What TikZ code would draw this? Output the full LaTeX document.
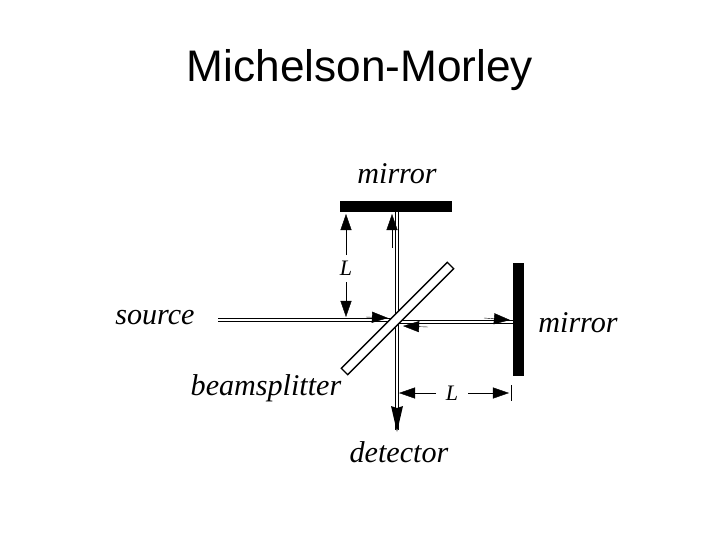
\documentclass[tikz,border=0pt]{standalone}
\usepackage{fontspec}
\setmainfont{Liberation Serif}
\newfontfamily\titlefont{Liberation Sans}
\usetikzlibrary{arrows.meta,calc}
\tikzset{
  beam/.style={double, double distance=2.4pt, line width=1pt},
  lab/.style={font=\fontsize{30}{32}\selectfont\itshape},
  tip/.style={-{Triangle[length=16pt,width=11pt]}},
}
\begin{document}
\begin{tikzpicture}[x=0.35mm,y=-0.35mm]
\useasboundingbox (0,0) rectangle (720,540);
% Title
\node (title) [font=\titlefont\fontsize{44}{46}\selectfont] at (360,70) {Michelson-Morley};

% Mirrors
\node (topmirror) [fill=black, minimum width=112*0.35mm, minimum height=11*0.35mm, inner sep=0pt] at (396,206.5) {};
\node (rightmirror) [fill=black, minimum width=11*0.35mm, minimum height=113*0.35mm, inner sep=0pt] at (518.5,319.5) {};

% Beams
\coordinate (src) at (218,320);
\coordinate (bs) at (397,320);
\coordinate (det) at (397,430);
\coordinate (rm) at (513,322);
\draw [beam] (src) -- (bs);
\draw [beam] (bs |- topmirror.south) -- (det);
\draw [beam] (bs |- rm) -- (rm);
\fill (397,408) -- (391,406) -- (397,432) -- (403,406) -- cycle;

% Beamsplitter
\node (splitter) [draw, line width=1.3pt, fill=white, rotate=45, minimum width=150*0.35mm, minimum height=9*0.35mm, inner sep=0pt] at (397.5,318.5) {};

% Direction marks
\draw [tip] (392,248) -- (392,214);
\draw [tip] (366,317) -- (388,318);
\draw [tip] (484,318) -- (510,320);
\draw [tip] (428,327) -- (403,326);

% Dimension L (vertical)
\draw [tip] (346,255) -- (346,214);
\draw [tip] (346,282) -- (346,317);
\node (Lv) [lab, font=\fontsize{22}{24}\selectfont\itshape] at (346,268) {L};

% Dimension L (horizontal)
\draw [tip] (436,393) -- (399,393);
\draw [tip] (468,393) -- (509,393);
\draw (511,385) -- (511,401);
\node (Lh) [lab, font=\fontsize{22}{24}\selectfont\itshape] at (452,393) {L};

% Labels
\node (ltop) [lab] at (397,174) {mirror};
\node (lright) [lab] at (578,323) {mirror};
\node (lsrc) [lab] at (155,318) {source};
\node (lbs) [lab] at (266,388) {beamsplitter};
\node (ldet) [lab] at (399,452) {detector};
\end{tikzpicture}
\end{document}
